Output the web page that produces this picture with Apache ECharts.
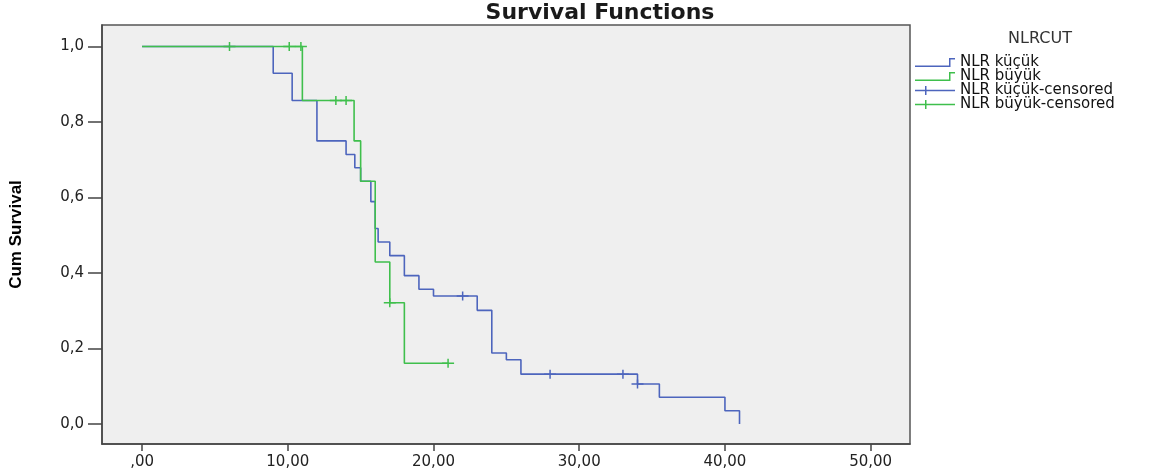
<!DOCTYPE html>
<html>
<head>
<meta charset="utf-8">
<script src="https://cdn.jsdelivr.net/npm/echarts@6/dist/echarts.min.js"></script>
<style>
  html, body { margin: 0; padding: 0; background: #fff; }
  #chart { width: 1167px; height: 476px; }
</style>
</head>
<body>
<div id="chart"></div>
<script>
// Kaplan-Meier steps
const smallTimes = [0, 9, 10.3, 12, 14, 14.6, 15, 15.7, 16, 16.2, 17, 18, 19, 20, 23, 24, 25, 26, 34, 35.5, 40, 41]
const smallSurv = [1, 0.929, 0.857, 0.75, 0.714, 0.679, 0.643, 0.589, 0.518, 0.482, 0.446, 0.393, 0.357, 0.339, 0.301, 0.188, 0.17, 0.132, 0.106, 0.071, 0.035, 0]
const bigTimes = [0, 11, 14.55, 15, 16, 17, 18, 21]
const bigSurv = [1, 0.857, 0.75, 0.643, 0.429, 0.321, 0.161, 0.161]

// censored cases
const smallCensTimes = [22, 28, 33, 34]
const smallCensSurv = [0.339, 0.132, 0.132, 0.106]
const bigCensTimes = [6, 10.1, 10.9, 13.3, 14, 17, 21]
const bigCensSurv = [1, 1, 1, 0.857, 0.857, 0.321, 0.161]

const xTicks = [0, 10, 20, 30, 40, 50]
const yTicks = [0, 0.2, 0.4, 0.6, 0.8, 1]
const seriesNames = ['NLR küçük', 'NLR büyük', 'NLR küçük-censored', 'NLR büyük-censored']

const BLUE = '#4d65bd'
const GREEN = '#3fbf4c'
const plusPath = 'path://M5.25,0H6.75V3.75H12V5.25H6.75V9H5.25V5.25H0V3.75H5.25Z'
const stepIcon = 'path://M0,7.5H34V0H40V1.5H35.5V9H0Z'
const censIcon = 'path://M0,3.75H10V0H11.5V3.75H40V5.25H11.5V9H10V5.25H0Z'

const zip = (xs, ys) => xs.map((x, i) => [x, ys[i]])

const chart = echarts.init(document.getElementById('chart'))
chart.setOption({
    animation: false,
    backgroundColor: '#fff',
    graphic: [
        {
            type: 'text', x: 600, y: 2,
            style: { text: 'Survival Functions', fill: '#1a1a1a', font: 'bold 22px "DejaVu Sans"', textAlign: 'center' }
        },
        {
            type: 'text', x: 1040, y: 31,
            style: { text: 'NLRCUT', fill: '#333', font: '16px "DejaVu Sans"', textAlign: 'center' }
        }
    ],
    legend: {
        orient: 'vertical',
        left: 915,
        top: 55,
        padding: 0,
        itemWidth: 40,
        itemHeight: 9,
        itemGap: -1,
        textStyle: { color: '#111', fontSize: 15, fontFamily: 'DejaVu Sans', lineHeight: 14 },
        data: [
            { name: seriesNames[0], icon: stepIcon },
            { name: seriesNames[1], icon: stepIcon },
            { name: seriesNames[2], icon: censIcon },
            { name: seriesNames[3], icon: censIcon }
        ]
    },
    grid: {
        show: true,
        left: 101, top: 25, width: 809, height: 419,
        backgroundColor: '#efefef',
        borderColor: '#555',
        borderWidth: 1.5
    },
    xAxis: {
        type: 'value',
        min: -2.75,
        max: 52.7,
        splitLine: { show: false },
        axisLine: { show: true, onZero: false, lineStyle: { color: '#444', width: 1.5 } },
        axisTick: { show: true, length: 7, customValues: xTicks, lineStyle: { color: '#444', width: 1.5 } },
        axisLabel: {
            customValues: xTicks,
            color: '#222', fontSize: 15, fontFamily: 'DejaVu Sans', margin: 11,
            formatter: v => v === 0 ? ',00' : v + ',00'
        }
    },
    yAxis: {
        type: 'value',
        min: -0.053,
        max: 1.057,
        name: 'Cum Survival',
        nameLocation: 'middle',
        nameRotate: 90,
        nameGap: 77,
        nameTextStyle: { color: '#000', fontSize: 17, fontWeight: 'bold', fontFamily: '"Liberation Sans Narrow", "Liberation Sans", sans-serif' },
        splitLine: { show: false },
        axisLine: { show: true, onZero: false, lineStyle: { color: '#444', width: 1.5 } },
        axisTick: { show: true, length: 14, customValues: yTicks, lineStyle: { color: '#444', width: 1.5 } },
        axisLabel: {
            customValues: yTicks,
            color: '#222', fontSize: 15, fontFamily: 'DejaVu Sans', margin: 18,
            formatter: v => v.toFixed(1).replace('.', ',')
        }
    },
    series: [
        {
            name: seriesNames[0],
            type: 'line',
            step: 'end',
            showSymbol: false,
            itemStyle: { color: BLUE },
            lineStyle: { color: BLUE, width: 1.6 },
            data: zip(smallTimes, smallSurv)
        },
        {
            name: seriesNames[1],
            type: 'line',
            step: 'end',
            showSymbol: false,
            itemStyle: { color: GREEN },
            lineStyle: { color: GREEN, width: 1.6 },
            data: zip(bigTimes, bigSurv)
        },
        {
            name: seriesNames[2],
            type: 'scatter',
            symbol: plusPath,
            symbolSize: [12, 9],
            itemStyle: { color: BLUE, opacity: 1 },
            data: zip(smallCensTimes, smallCensSurv)
        },
        {
            name: seriesNames[3],
            type: 'scatter',
            symbol: plusPath,
            symbolSize: [12, 9],
            itemStyle: { color: GREEN, opacity: 1 },
            data: zip(bigCensTimes, bigCensSurv)
        }
    ]
})
</script>
</body>
</html>
